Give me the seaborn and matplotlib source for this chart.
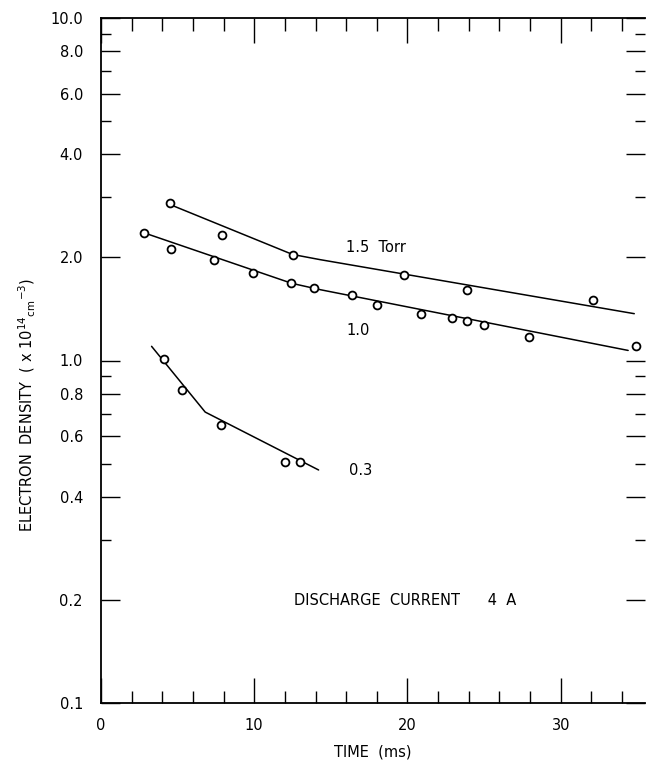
import matplotlib
matplotlib.use("Agg")
import matplotlib.pyplot as plt
import seaborn as sns
from matplotlib.ticker import FixedLocator, NullFormatter

# measured points (time in ms, density in 1e14 cm^-3)
t_15 = [4.5, 7.9, 12.5, 19.8, 23.9, 32.1]
n_15 = [2.88, 2.33, 2.03, 1.78, 1.61, 1.50]
t_10 = [2.8, 4.6, 7.4, 9.9, 12.4, 13.9, 16.4, 18.0, 20.9, 22.9, 23.9, 25.0, 27.9, 34.9]
n_10 = [2.36, 2.12, 1.97, 1.80, 1.68, 1.63, 1.55, 1.45, 1.37, 1.33, 1.30, 1.27, 1.17, 1.10]
t_03 = [4.1, 5.3, 7.8, 12.0, 13.0]
n_03 = [1.01, 0.82, 0.65, 0.505, 0.505]

# hand-drawn fit lines
fit_t_15 = [4.7, 12.5, 14.3, 34.8]
fit_n_15 = [2.83, 2.04, 1.97, 1.37]
fit_t_10 = [2.8, 12.45, 14.3, 34.4]
fit_n_10 = [2.36, 1.68, 1.61, 1.07]
fit_t_03 = [3.3, 6.8, 14.2]
fit_n_03 = [1.10, 0.707, 0.479]

y_major = [0.1, 0.2, 0.4, 0.6, 0.8, 1.0, 2.0, 4.0, 6.0, 8.0, 10.0]
y_minor = [0.3, 0.5, 0.7, 0.9, 3.0, 5.0, 7.0, 9.0]
x_major = [0, 10, 20, 30]
x_minor = [2, 4, 6, 8, 12, 14, 16, 18, 22, 24, 26, 28, 32, 34]

sns.set_theme(style="ticks")
plt.rcParams["font.family"] = ["DejaVu Sans"]
plt.rcParams["text.color"] = "black"
plt.rcParams["axes.labelcolor"] = "black"

fig = plt.figure(figsize=(6.46, 7.6), dpi=100)
ax = fig.add_axes([101 / 646, 57 / 760, 544 / 646, 685 / 760])

for ft, fn in [(fit_t_15, fit_n_15), (fit_t_10, fit_n_10), (fit_t_03, fit_n_03)]:
    sns.lineplot(x=ft, y=fn, ax=ax, color="black", linewidth=1.1,
                 estimator=None, sort=False)

for t, n in [(t_15, n_15), (t_10, n_10), (t_03, n_03)]:
    sns.scatterplot(x=t, y=n, ax=ax, marker="o", s=32, facecolor="white",
                    edgecolor="black", linewidth=1.3, zorder=3)

ax.set_yscale("log")
ax.set_xlim(0, 35.5)
ax.set_ylim(0.1, 10.0)

ax.yaxis.set_major_locator(FixedLocator(y_major))
ax.yaxis.set_minor_locator(FixedLocator(y_minor))
ax.set_yticklabels([f"{v:.1f}" for v in y_major])
ax.yaxis.set_minor_formatter(NullFormatter())
ax.xaxis.set_major_locator(FixedLocator(x_major))
ax.xaxis.set_minor_locator(FixedLocator(x_minor))
ax.set_xticklabels([str(v) for v in x_major])

ax.tick_params(axis="both", which="both", direction="in", colors="black",
               width=1.0, labelsize=10.5)
ax.tick_params(axis="y", which="major", length=14, pad=13, right=True)
ax.tick_params(axis="y", which="minor", length=7, right=True)
ax.tick_params(axis="x", which="major", length=18, pad=11, top=True)
ax.tick_params(axis="x", which="minor", length=9, top=True)

for side in ["left", "bottom", "top"]:
    ax.spines[side].set_linewidth(1.3)
    ax.spines[side].set_color("black")
ax.spines["right"].set_visible(False)

ax.text(16.0, 2.14, "1.5  Torr", fontsize=10.5, ha="left", va="center")
ax.text(16.0, 1.22, "1.0", fontsize=10.5, ha="left", va="center")
ax.text(16.2, 0.476, "0.3", fontsize=10.5, ha="left", va="center")
ax.text(12.6, 0.199, "DISCHARGE  CURRENT      4  A", fontsize=10.5,
        ha="left", va="center")

ax.set_xlabel("TIME  (ms)", fontsize=10.5, labelpad=8)
ax.set_ylabel(r"ELECTRON  DENSITY  ( x 10$^{14}$$_{\rm cm}$$^{-3}$)",
              fontsize=10.5)
ax.yaxis.set_label_coords(-0.115, 0.435)

fig.savefig("out.png", dpi=100, facecolor="white")
